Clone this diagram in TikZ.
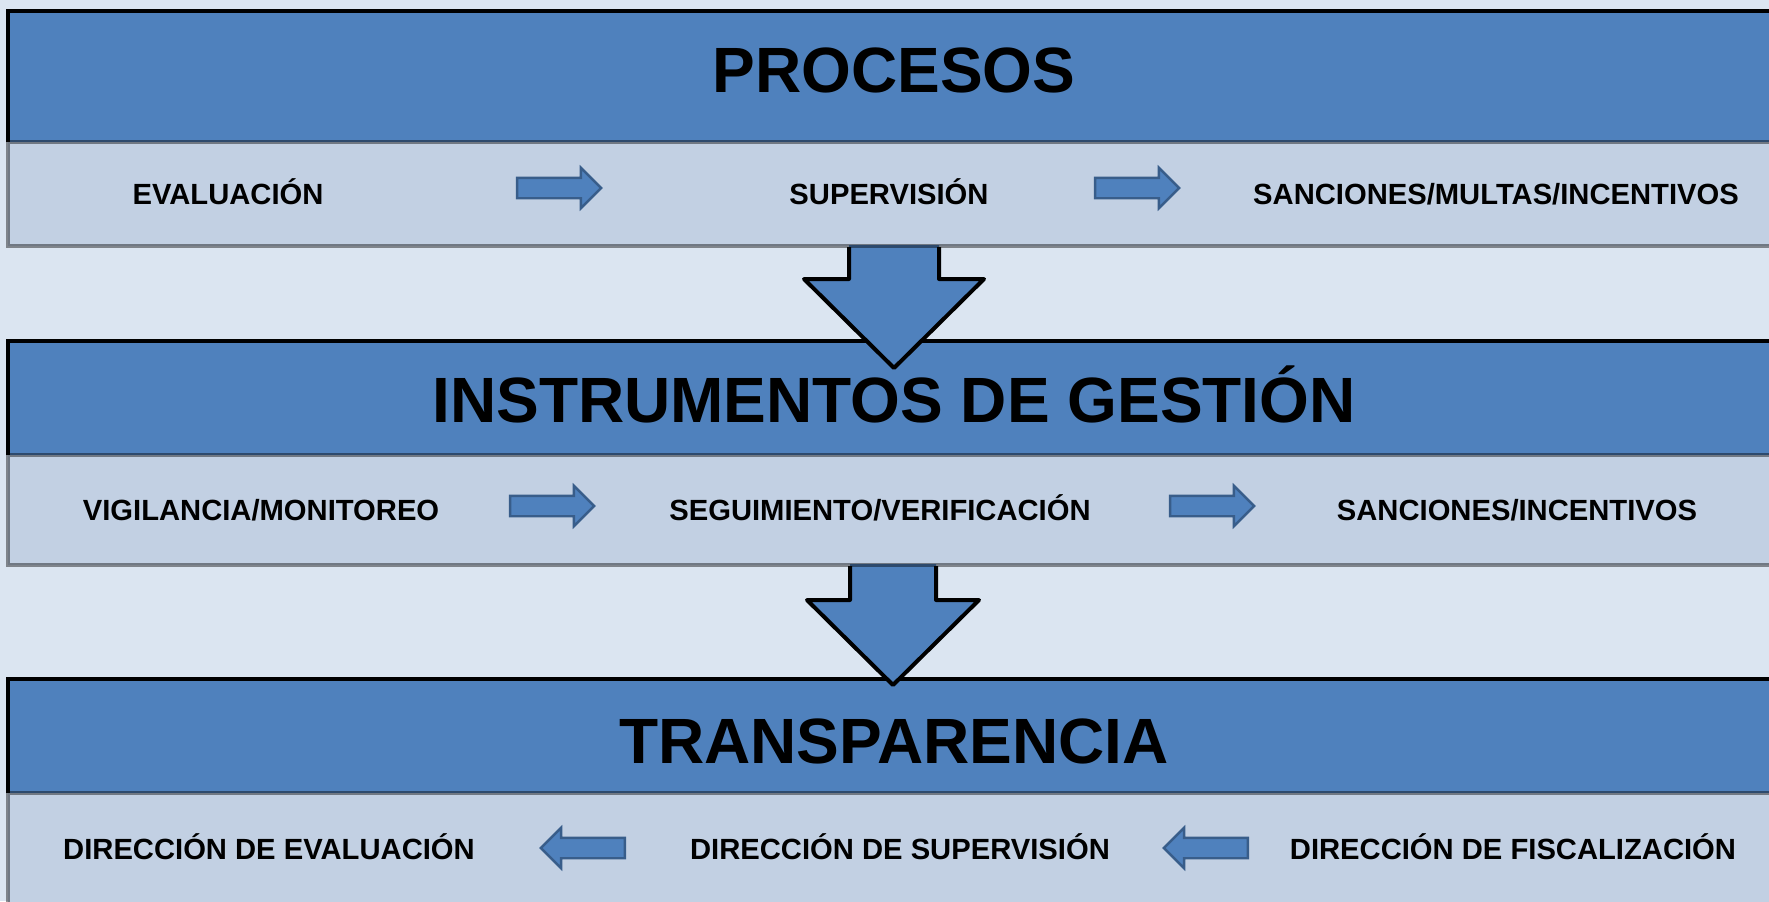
\documentclass[tikz,border=0pt]{standalone}
\usepackage{fontspec}
\setmainfont{Liberation Sans}
\usepackage{tikz}
\usetikzlibrary{shapes.arrows}
\definecolor{fondo}{HTML}{DBE5F1}
\definecolor{azul}{HTML}{4F81BD}
\definecolor{azulclaro}{HTML}{C2D0E3}
\definecolor{azulborde}{HTML}{385D8A}
\tikzstyle{titulo}=[anchor=base, font=\fontsize{32}{38}\selectfont\bfseries]
\tikzstyle{item}=[anchor=base, font=\fontsize{14.6}{17}\selectfont\bfseries]
\tikzstyle{flecha}=[single arrow, fill=azul, draw=azulborde, line width=1.2pt, minimum height=42pt, inner xsep=0pt, inner ysep=4.5pt, single arrow head extend=5pt]
\tikzstyle{cabecera}=[fill=azul]
\tikzstyle{banda}=[fill=azulclaro]
\tikzstyle{bandaborde}=[draw=black, draw opacity=0.42, line width=1.7pt]
\tikzstyle{borde}=[draw=black, line width=2.2pt]
\tikzstyle{bajada}=[draw=black, line width=2pt, line join=round]

\begin{document}
\begin{tikzpicture}[x=0.5pt, y=-0.5pt]
		   \useasboundingbox (0,0) rectangle (1769,901);
		   \clip (0,0) rectangle (1769,901);
		   \fill[fondo] (0,0) rectangle (1769,901);
		   % paneles
		   \begin{scope}
			   \fill[cabecera] (8,11) rectangle (1790,142);
			   \path[banda] (8,142) rectangle (1790,246);
			   \draw[borde] (8,142) -- (8,11) -- (1790,11);
			   \fill[cabecera] (8,341) rectangle (1790,455);
			   \path[banda] (8,455) rectangle (1790,565);
			   \draw[borde] (8,455) -- (8,341) -- (1790,341);
			   \fill[cabecera] (8,679) rectangle (1790,793);
			   \path[banda] (8,793) rectangle (1790,920);
			   \draw[borde] (8,793) -- (8,679) -- (1790,679);
		   \end{scope}
		   % flechas grandes
		   \begin{scope}
			   \coordinate (bajada1) at (894,247);
			   \coordinate (bajada2) at (893,566);
			   \fill[azul] (bajada1) ++(-45,-2) -- ++(0,34) -- ++(-45,0) -- ++(90,89) -- ++(90,-89) -- ++(-45,0) -- ++(0,-34) -- cycle;
			   \draw[bajada] (bajada1) ++(-45,0) -- ++(0,32) -- ++(-45,0) -- ++(90,89) -- ++(90,-89) -- ++(-45,0) -- ++(0,-32);
			   \fill[azul] (bajada2) ++(-43,-2) -- ++(0,36) -- ++(-43,0) -- ++(86,85) -- ++(86,-85) -- ++(-43,0) -- ++(0,-36) -- cycle;
			   \draw[bajada] (bajada2) ++(-43,0) -- ++(0,34) -- ++(-43,0) -- ++(86,85) -- ++(86,-85) -- ++(-43,0) -- ++(0,-34);
		   \end{scope}
		   % bordes de las bandas
		   \begin{scope}
			   \path[bandaborde] (8,142) rectangle (1790,246);
			   \path[bandaborde] (8,455) rectangle (1790,565);
			   \path[bandaborde] (8,793) rectangle (1790,920);
		   \end{scope}
		   % titulos
		   \begin{scope}
			   \node (procesos) at (894,92)[titulo] {PROCESOS};
			   \node (instrumentos) at (894,422)[titulo] {INSTRUMENTOS DE GESTIÓN};
			   \node (transparencia) at (894,763)[titulo] {TRANSPARENCIA};
		   \end{scope}
		   % textos
		   \begin{scope}
			   \node (evaluacion) at (228,204)[item] {EVALUACIÓN};
			   \node (supervision) at (889,204)[item] {SUPERVISIÓN};
			   \node (sanciones) at (1496,204)[item] {SANCIONES/MULTAS/INCENTIVOS};
			   \node (vigilancia) at (261,520)[item] {VIGILANCIA/MONITOREO};
			   \node (seguimiento) at (880,520)[item] {SEGUIMIENTO/VERIFICACIÓN};
			   \node (incentivos) at (1517,520)[item] {SANCIONES/INCENTIVOS};
			   \node (direval) at (269,859)[item] {DIRECCIÓN DE EVALUACIÓN};
			   \node (dirsup) at (900,859)[item] {DIRECCIÓN DE SUPERVISIÓN};
			   \node (dirfis) at (1513,859)[item] {DIRECCIÓN DE FISCALIZACIÓN};
		   \end{scope}
		   % flechas pequenas
		   \begin{scope}
			   \node (f1) at (554,188)[flecha] {};
			   \node (f2) at (1132,188)[flecha] {};
			   \node (f3) at (547,506)[flecha] {};
			   \node (f4) at (1207,506)[flecha] {};
			   \node (f5) at (588,848)[flecha, shape border rotate=180] {};
			   \node (f6) at (1211,848)[flecha, shape border rotate=180] {};
		   \end{scope}
	   \end{tikzpicture}
\end{document}
